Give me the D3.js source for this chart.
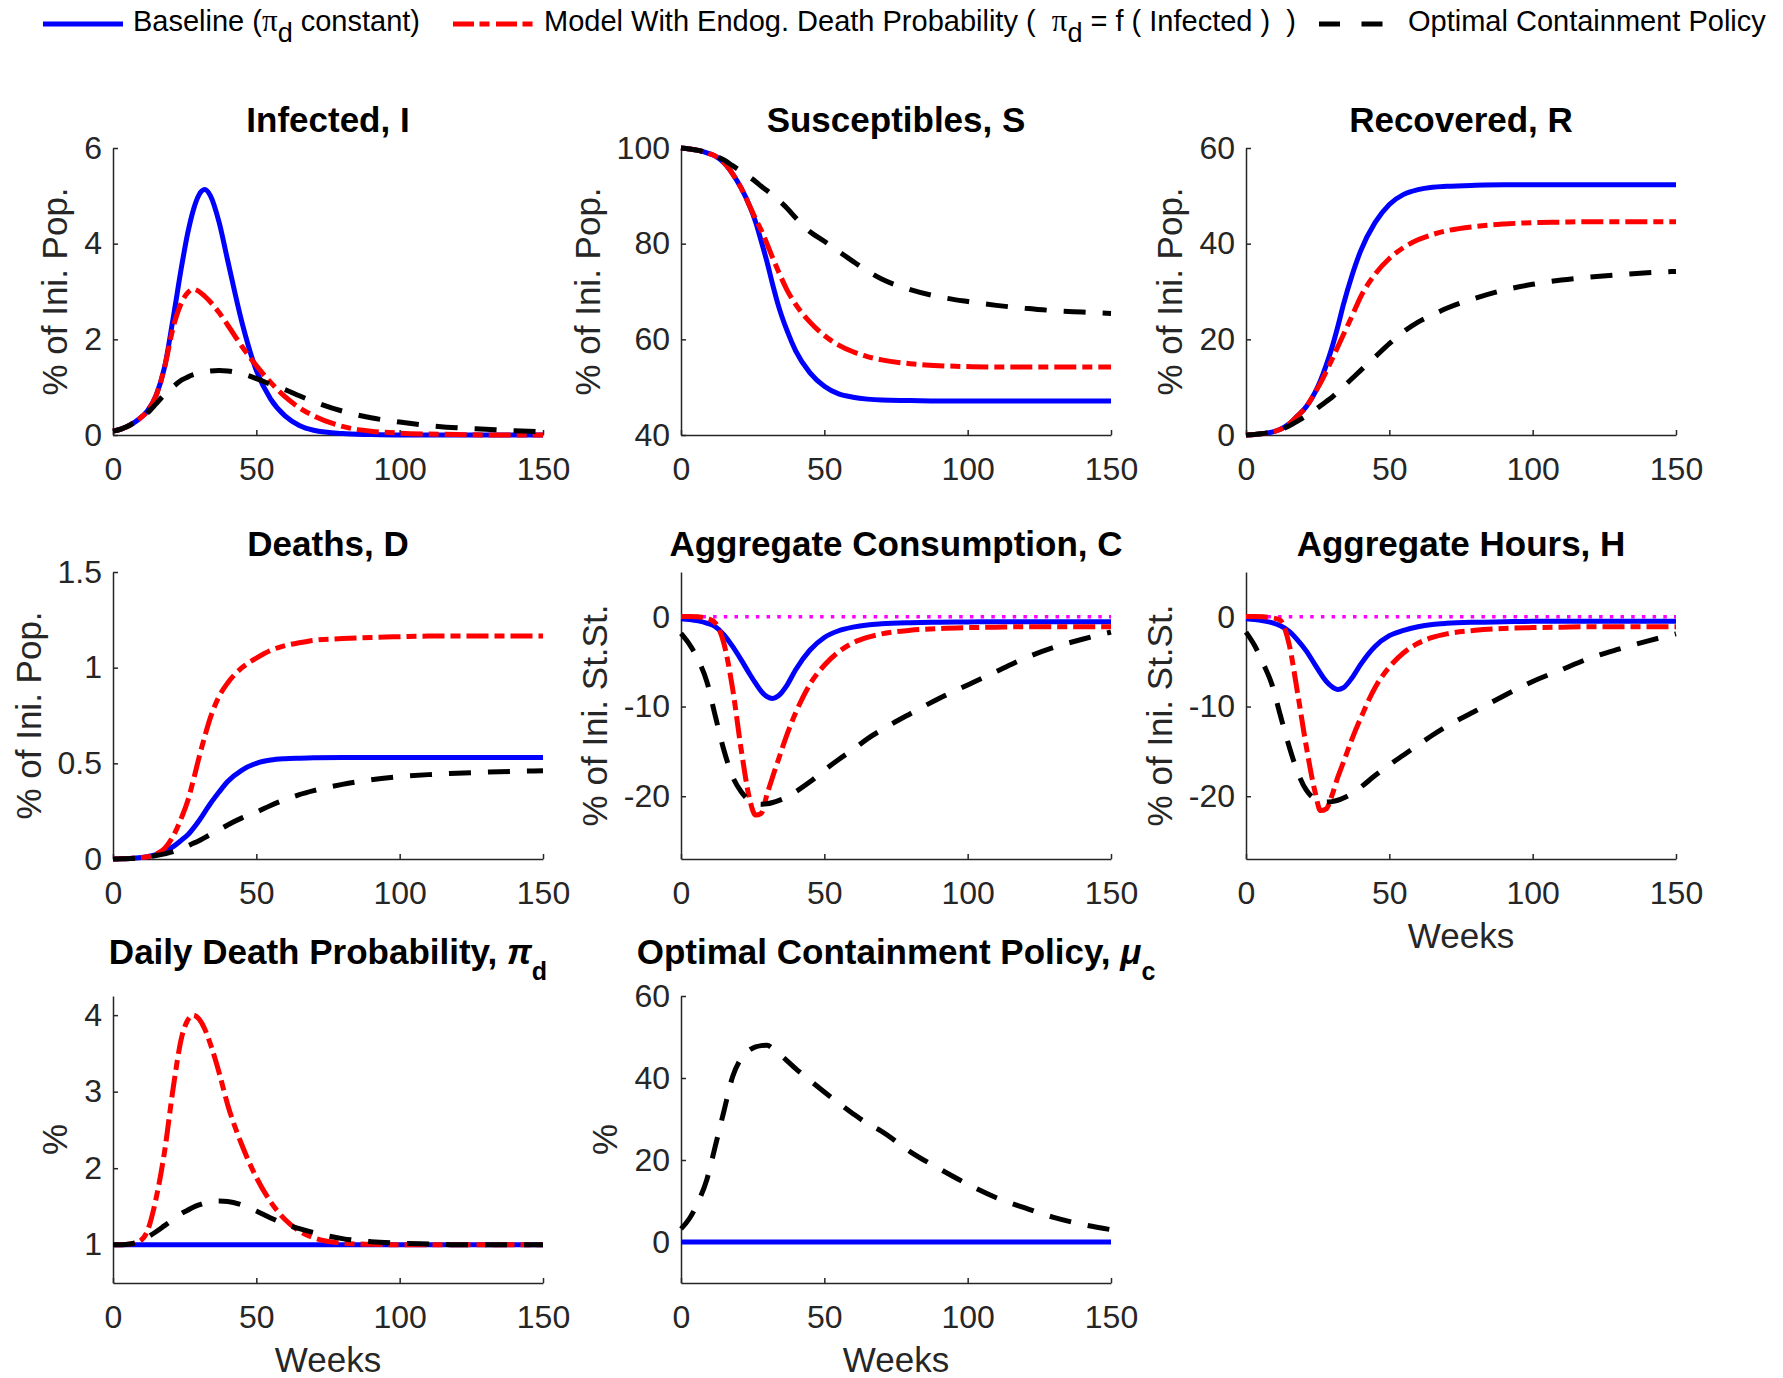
<!DOCTYPE html>
<html>
<head>
<meta charset="utf-8">
<script src="https://cdn.jsdelivr.net/npm/d3@7"></script>
<style>
  body { margin: 0; background: #fff; }
  svg { display: block; font-family: "Liberation Sans", Arial, Helvetica, sans-serif; }
</style>
</head>
<body>
<svg id="chart" width="1783" height="1378"></svg>
<script>
const weeks = [0,3,6,9,12,15,18,21,24,26,28,30,32,34,37,40,45,50,55,60,65,70,80,90,100,110,120,130,140,150];
const xTicks = [0, 50, 100, 150];

// Infected, I (% of initial population)
const infBase  = [0.08,0.13,0.21,0.33,0.5,0.82,1.42,2.45,3.55,4.2,4.7,5.02,5.13,5.0,4.45,3.65,2.35,1.35,0.75,0.4,0.2,0.1,0.03,0.01,0,0,0,0,0,0];
const infEndog = [0.08,0.13,0.21,0.33,0.5,0.82,1.42,2.25,2.78,2.97,3.05,3.0,2.9,2.78,2.56,2.3,1.85,1.45,1.1,0.8,0.57,0.4,0.18,0.08,0.04,0.02,0.01,0,0,0];
const infOpt   = [0.08,0.13,0.21,0.32,0.46,0.65,0.85,1.01,1.15,1.21,1.26,1.29,1.32,1.34,1.35,1.34,1.28,1.18,1.06,0.95,0.82,0.7,0.5,0.36,0.27,0.2,0.15,0.12,0.09,0.07];

// Susceptibles, S
const susBase  = [100,99.8,99.5,99.0,98.3,96.9,94.6,91.6,87.8,84.6,80.5,76.2,71.4,67.0,61.8,57.6,53.0,50.2,48.6,47.9,47.5,47.3,47.2,47.1,47.1,47.1,47.1,47.1,47.1,47.1];
const susEndog = [100,99.8,99.5,99.0,98.3,96.9,94.6,91.6,87.8,85.2,82.8,80.0,77.0,74.2,70.3,67.3,63.6,60.8,58.8,57.4,56.4,55.7,54.9,54.5,54.3,54.2,54.2,54.2,54.2,54.2];
const susOpt   = [100,99.8,99.5,99.0,98.3,97.5,96.3,95.1,93.9,93.0,92.0,91.1,90.1,89.1,87.4,85.4,82.5,80.5,78.4,76.3,74.3,72.6,70.4,68.9,67.9,67.1,66.5,66.0,65.7,65.4];

// Recovered, R
const recBase  = [0,0.1,0.3,0.6,1.2,2.3,4.0,5.9,8.8,11.4,14.6,18.3,22.6,27.3,33.4,38.5,44.4,48.2,50.3,51.3,51.8,52.0,52.2,52.3,52.3,52.3,52.3,52.3,52.3,52.3];
const recEndog = [0,0.1,0.3,0.6,1.2,2.3,4.0,5.9,8.8,10.9,13.3,15.8,18.4,21.0,24.9,28.9,33.6,36.9,39.2,40.8,41.9,42.7,43.6,44.1,44.4,44.5,44.6,44.6,44.6,44.6];
const recOpt   = [0,0.1,0.3,0.6,1.1,1.9,2.9,4.0,5.2,6.1,7.0,7.9,9.0,10.1,11.8,13.5,16.3,19.1,21.6,23.6,25.1,26.5,28.6,30.3,31.5,32.4,33.0,33.5,33.9,34.2];

// Deaths, D
const deathBase  = [0,0.001,0.003,0.006,0.012,0.023,0.04,0.065,0.1,0.125,0.16,0.2,0.245,0.29,0.35,0.405,0.465,0.5,0.517,0.524,0.527,0.529,0.53,0.53,0.53,0.53,0.53,0.53,0.53,0.53];
const deathEndog = [0,0.001,0.003,0.006,0.012,0.025,0.055,0.12,0.22,0.3,0.41,0.53,0.64,0.74,0.85,0.92,1.0,1.05,1.09,1.115,1.13,1.143,1.152,1.158,1.162,1.165,1.165,1.165,1.165,1.165];
const deathOpt   = [0,0.001,0.002,0.005,0.01,0.018,0.027,0.038,0.055,0.068,0.082,0.095,0.112,0.128,0.152,0.178,0.215,0.245,0.28,0.31,0.336,0.357,0.39,0.414,0.43,0.441,0.448,0.454,0.458,0.461];

// Aggregate Consumption, C (% of initial steady state)
const consBase  = [-0.2,-0.3,-0.45,-0.7,-1.1,-2.0,-3.3,-4.8,-6.4,-7.4,-8.3,-8.9,-9.1,-8.8,-7.6,-5.9,-3.7,-2.3,-1.55,-1.15,-0.9,-0.78,-0.66,-0.6,-0.57,-0.55,-0.55,-0.55,-0.55,-0.55];
const consEndog = [0.05,0.05,0,-0.15,-0.7,-3.0,-8.0,-14.8,-20.4,-22.1,-21.9,-19.8,-17.8,-15.9,-13.1,-10.7,-7.5,-5.4,-3.9,-2.9,-2.3,-1.9,-1.5,-1.3,-1.2,-1.15,-1.1,-1.1,-1.1,-1.1];
const consOpt   = [-1.85,-3.1,-4.8,-7.2,-11.1,-14.9,-17.8,-19.5,-20.5,-20.8,-20.9,-20.85,-20.7,-20.5,-20.1,-19.5,-18.4,-17.1,-15.9,-14.8,-13.6,-12.6,-10.8,-9.1,-7.6,-6.1,-4.6,-3.4,-2.5,-1.7];

// Aggregate Hours, H
const hoursBase  = [-0.2,-0.3,-0.45,-0.65,-1.0,-1.6,-2.6,-3.8,-5.3,-6.3,-7.2,-7.8,-8.1,-7.9,-6.8,-5.3,-3.3,-2.1,-1.5,-1.1,-0.85,-0.72,-0.6,-0.55,-0.5,-0.5,-0.5,-0.5,-0.5,-0.5];
const hoursEndog = [0.05,0.05,0,-0.1,-0.4,-3.0,-8.5,-14.4,-19.4,-21.6,-21.4,-19.9,-17.9,-16.2,-13.6,-11.3,-7.9,-5.6,-4.0,-2.95,-2.3,-1.9,-1.5,-1.3,-1.2,-1.15,-1.1,-1.1,-1.1,-1.1];
const hoursOpt   = [-1.7,-3.2,-5.2,-7.5,-11.0,-14.4,-17.3,-19.3,-20.3,-20.6,-20.65,-20.6,-20.45,-20.2,-19.7,-19.0,-17.7,-16.5,-15.4,-14.3,-13.2,-12.2,-10.5,-8.8,-7.2,-5.9,-4.6,-3.6,-2.7,-1.9];

// Daily death probability (%)
const pdBase  = [1,1,1,1,1,1,1,1,1,1,1,1,1,1,1,1,1,1,1,1,1,1,1,1,1,1,1,1,1,1];
const pdEndog = [1,1,1.01,1.04,1.18,1.6,2.22,3.05,3.72,3.93,4.0,3.95,3.82,3.62,3.25,2.83,2.3,1.88,1.56,1.33,1.18,1.09,1.02,1.005,1,1,1,1,1,1];
const pdOpt   = [1,1,1.01,1.04,1.1,1.17,1.25,1.33,1.41,1.45,1.49,1.52,1.545,1.56,1.57,1.565,1.52,1.44,1.35,1.27,1.21,1.16,1.08,1.04,1.02,1.01,1,1,1,1];

// Optimal containment policy (%)
const muBase = [0,0,0,0,0,0,0,0,0,0,0,0,0,0,0,0,0,0,0,0,0,0,0,0,0,0,0,0,0,0];
const muOpt  = [3.2,5.8,9.8,15.2,23.5,32,40.3,44.8,46.9,47.6,47.9,48.0,47.2,46.0,44.2,42.3,39.4,36.6,33.9,31.3,28.9,27.0,22.0,17.9,14.1,10.8,8.3,6.0,4.3,3.0];

// steady-state reference (magenta dotted) in C and H
const refWeeks = [0, 150];
const refLine = [0, 0];

const seriesNames = ["Baseline", "Endog", "Optimal"];

//--------------------------------------------------------------
const svg = d3.select("#chart");
const W = 430, H = 287;
const colLeft = [113, 681, 1246];
const rowTop = [148, 572, 996];

const styles = [
    { color: "#0000ff", dash: null },
    { color: "#ff0000", dash: "22,6,10,6" },
    { color: "#000000", dash: "22,17" }
];
const fmt = d => String(d);

const panels = [
    { col: 0, row: 0, title: "Infected, I", ylabel: "% of Ini. Pop.", dom: [0, 6], ticks: [0, 2, 4, 6], data: [infBase, infEndog, infOpt] },
    { col: 1, row: 0, title: "Susceptibles, S", ylabel: "% of Ini. Pop.", dom: [40, 100], ticks: [40, 60, 80, 100], data: [susBase, susEndog, susOpt] },
    { col: 2, row: 0, title: "Recovered, R", ylabel: "% of Ini. Pop.", dom: [0, 60], ticks: [0, 20, 40, 60], data: [recBase, recEndog, recOpt] },
    { col: 0, row: 1, title: "Deaths, D", ylabel: "% of Ini. Pop.", dom: [0, 1.5], ticks: [0, 0.5, 1, 1.5], data: [deathBase, deathEndog, deathOpt] },
    { col: 1, row: 1, title: "Aggregate Consumption, C", ylabel: "% of Ini. St.St.", dom: [-27, 5], ticks: [-20, -10, 0], data: [consBase, consEndog, consOpt], ref: true },
    { col: 2, row: 1, title: "Aggregate Hours, H", ylabel: "% of Ini. St.St.", dom: [-27, 5], ticks: [-20, -10, 0], data: [hoursBase, hoursEndog, hoursOpt], ref: true, xlabel: true },
    { col: 0, row: 2, title: "Daily Death Probability,", greek: "\u03c0", sub: "d", ylabel: "%", dom: [0.5, 4.25], ticks: [1, 2, 3, 4], data: [pdBase, pdEndog, pdOpt], xlabel: true },
    { col: 1, row: 2, title: "Optimal Containment Policy,", greek: "\u03bc", sub: "c", ylabel: "%", dom: [-10, 60], ticks: [0, 20, 40, 60], data: [muBase, muOpt], dataStyles: [0, 2], xlabel: true }
];

panels.forEach(p => {
    const g = svg.append("g").attr("transform", `translate(${colLeft[p.col]},${rowTop[p.row]})`);
    const x = d3.scaleLinear().domain([0, 150]).range([0, W]);
    const y = d3.scaleLinear().domain(p.dom).range([H, 0]);

    // axes first so the curves sit on top of them
    const xa = g.append("g")
        .attr("transform", `translate(0,${H})`)
        .call(d3.axisBottom(x).tickValues(xTicks).tickSizeInner(-5).tickSizeOuter(0).tickPadding(22).tickFormat(fmt));
    const ya = g.append("g")
        .call(d3.axisLeft(y).tickValues(p.ticks).tickSizeInner(-5).tickSizeOuter(0).tickPadding(11).tickFormat(fmt));
    [xa, ya].forEach(a => {
        a.attr("font-size", 32).attr("font-family", null).attr("color", "#262626");
        a.select(".domain").attr("stroke-width", 1.5);
        a.selectAll(".tick line").attr("stroke-width", 1.5);
    });

    if (p.ref) {
        const refL = d3.line().x((d, i) => x(refWeeks[i])).y(d => y(d));
        g.append("path").datum(refLine)
            .attr("d", refL)
            .attr("fill", "none")
            .attr("stroke", "#ff00ff")
            .attr("stroke-width", 3.5)
            .attr("stroke-dasharray", "3.5,7.2");
    }

    const line = d3.line()
        .x((d, i) => x(weeks[i]))
        .y(d => y(d))
        .curve(d3.curveMonotoneX);

    p.data.forEach((s, k) => {
        const st = styles[p.dataStyles ? p.dataStyles[k] : k];
        g.append("path").datum(s)
            .attr("class", "series " + seriesNames[p.dataStyles ? p.dataStyles[k] : k])
            .attr("d", line)
            .attr("fill", "none")
            .attr("stroke", st.color)
            .attr("stroke-width", 5)
            .attr("stroke-linejoin", "round")
            .attr("stroke-dasharray", st.dash);
    });

    // title, raised a bit when it carries a subscript (as matlab does)
    const t = g.append("text")
        .attr("x", W / 2)
        .attr("y", p.sub ? -32 : -16.5)
        .attr("text-anchor", "middle")
        .attr("font-size", 35)
        .attr("font-weight", "bold")
        .attr("fill", "#000")
        .text(p.title);
    if (p.sub) {
        t.append("tspan").attr("font-style", "italic").text(" " + p.greek);
        t.append("tspan").attr("font-size", 25).attr("dy", 16).text(p.sub);
    }

    // y label sits left of the widest tick label
    let minX = 0;
    ya.selectAll(".tick text").each(function () {
        const b = this.getBBox();
        minX = Math.min(minX, b.x);
    });
    g.append("text")
        .attr("transform", `translate(${minX - 17},${H / 2}) rotate(-90)`)
        .attr("text-anchor", "middle")
        .attr("font-size", 35)
        .attr("fill", "#262626")
        .text(p.ylabel);

    if (p.xlabel) {
        g.append("text")
            .attr("x", W / 2)
            .attr("y", H + 88.5)
            .attr("text-anchor", "middle")
            .attr("font-size", 35)
            .attr("fill", "#262626")
            .text("Weeks");
    }
});

// legend across the top
const leg = svg.append("g").attr("font-size", 29).attr("fill", "#000");
const legY = 24, textY = 31;

leg.append("line").attr("x1", 43).attr("x2", 123).attr("y1", legY).attr("y2", legY)
    .attr("stroke", styles[0].color).attr("stroke-width", 5);
const t1 = leg.append("text").attr("x", 133).attr("y", textY).style("white-space", "pre").text("Baseline (");
t1.append("tspan").attr("font-family", "Liberation Serif").attr("font-size", 31).text("\u03c0");
t1.append("tspan").attr("font-size", 27).attr("dy", 11).text("d");
t1.append("tspan").attr("dy", -11).text(" constant)");

leg.append("line").attr("x1", 453).attr("x2", 533).attr("y1", legY).attr("y2", legY)
    .attr("stroke", styles[1].color).attr("stroke-width", 5).attr("stroke-dasharray", "21,5.5,10,6.5");
const t2 = leg.append("text").attr("x", 544).attr("y", textY).style("white-space", "pre").text("Model With Endog. Death Probability (  ");
t2.append("tspan").attr("font-family", "Liberation Serif").attr("font-size", 31).text("\u03c0");
t2.append("tspan").attr("font-size", 27).attr("dy", 11).text("d");
t2.append("tspan").attr("dy", -11).text(" = f ( Infected )  )");

leg.append("line").attr("x1", 1319).attr("x2", 1383).attr("y1", legY).attr("y2", legY)
    .attr("stroke", styles[2].color).attr("stroke-width", 5).attr("stroke-dasharray", "21,21.5");
leg.append("text").attr("x", 1408).attr("y", textY).text("Optimal Containment Policy");
</script>
</body>
</html>
